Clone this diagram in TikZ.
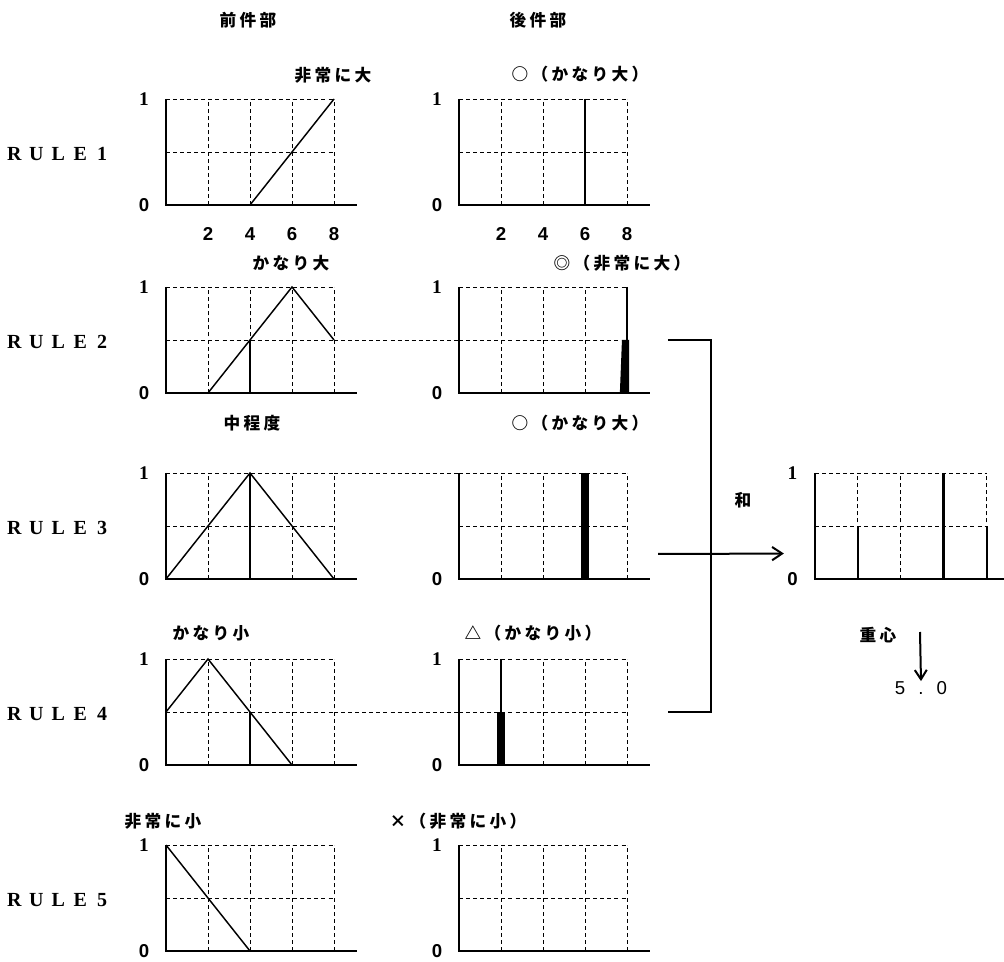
\documentclass[tikz,border=0pt]{standalone}
\usepackage{fontspec}
\setmainfont{Liberation Serif}
\newfontfamily\jpfont{Noto Sans CJK JP}[LetterSpace=20]
\newfontfamily\numfont{Liberation Sans}
\usetikzlibrary{arrows.meta}

% grid, axes and the 0 label of one membership-function panel
\newcommand\mfbase[2]{%
  \draw[gridline] (0,1) -- (8,1) (0,0.5) -- (8,0.5);
  \foreach \g in {2,4,6,8} {\draw[gridline] (\g,0) -- (\g,1);}
  \draw[axisline] (0,1) -- (0,0) -- (#2,0);
  \node[axzero] (#1zero) at (-1.05,0) {0};
}
% the same, with the 1 label on the vertical axis
\newcommand\mfaxes[2]{%
  \mfbase{#1}{#2}
  \node[axone] (#1one) at (-1.05,1) {1};
}
% the letter-spaced rule caption
\newcommand\rl[1]{\makebox[16.5pt][c]{#1}}

\begin{document}
\begin{tikzpicture}[x=0.75pt,y=-0.75pt,
  panel/.style 2 args={shift={(#1,#2)},x=15.75pt,y=79.5pt},
  axisline/.style={line width=1.5pt},
  gridline/.style={line width=0.7pt,dash pattern=on 3pt off 2.3pt},
  mfline/.style={line width=1.1pt,line join=miter},
  cutline/.style={line width=0.8pt},
  bracketline/.style={line width=1.5pt},
  jplab/.style={inner sep=0pt,font=\jpfont\bfseries\fontsize{12.5}{14}\selectfont},
  rulelab/.style={inner sep=0pt,anchor=west,font=\bfseries\fontsize{15}{17}\selectfont},
  axone/.style={inner sep=0pt,font=\bfseries\fontsize{14.5}{16}\selectfont},
  axzero/.style={inner sep=0pt,font=\numfont\bfseries\fontsize{14}{16}\selectfont},
  ticknum/.style={inner sep=0pt,font=\numfont\bfseries\fontsize{14}{16}\selectfont},
]
\useasboundingbox (0,0) rectangle (1004,962);

% column headings
\node[jplab] (hante) at (248,20) {前件部};
\node[jplab] (hkoke) at (538,20) {後件部};

% rule captions
\node[rulelab] (rule1) at (3,154) {\rl{R}\rl{U}\rl{L}\rl{E}\rl{1}};
\node[rulelab] (rule2) at (3,342) {\rl{R}\rl{U}\rl{L}\rl{E}\rl{2}};
\node[rulelab] (rule3) at (3,528) {\rl{R}\rl{U}\rl{L}\rl{E}\rl{3}};
\node[rulelab] (rule4) at (3,714) {\rl{R}\rl{U}\rl{L}\rl{E}\rl{4}};
\node[rulelab] (rule5) at (3,900) {\rl{R}\rl{U}\rl{L}\rl{E}\rl{5}};

% ---------- RULE 1 ----------
\node[jplab] (a1name) at (333,75) {非常に大};
\node[jplab] (c1name) at (580,74) {○（かなり大）};
\begin{scope}[panel={166}{205}]
  \mfaxes{A1}{9.1}
  \draw[mfline] (4,0) -- (8,1);
  \foreach \g in {2,4,6,8} {\node[ticknum] (tA\g) at (\g,-0.27) {\g};}
\end{scope}
\begin{scope}[panel={459}{205}]
  \mfaxes{C1}{9.1}
  \draw[cutline] (6,0) -- (6,1);
  \foreach \g in {2,4,6,8} {\node[ticknum] (tC\g) at (\g,-0.27) {\g};}
\end{scope}

% ---------- RULE 2 ----------
\node[jplab] (a2name) at (291,263) {かなり大};
\node[jplab] (c2name) at (622,263) {◎（非常に大）};
\begin{scope}[panel={166}{393}]
  \mfaxes{A2}{9.1}
  \draw[mfline] (2,0) -- (6,1) -- (8,0.5);
  \draw[cutline] (4,0) -- (4,0.5);
  \coordinate (a2cut) at (8,0.5);
\end{scope}
\begin{scope}[panel={459}{393}]
  \mfaxes{C2}{9.1}
  \draw[cutline] (8,0) -- (8,1);
  \fill (7.66,0) -- (8.1,0) -- (8.1,0.5) -- (7.76,0.5) -- cycle;
  \coordinate (c2cut) at (0,0.5);
  \coordinate (br2) at (9.95,0.5);
\end{scope}
\draw[gridline] (a2cut) -- (c2cut);

% ---------- RULE 3 ----------
\node[jplab] (a3name) at (252,423) {中程度};
\node[jplab] (c3name) at (580,423) {○（かなり大）};
\begin{scope}[panel={166}{579}]
  \mfaxes{A3}{9.1}
  \draw[mfline] (0,0) -- (4,1) -- (8,0);
  \draw[cutline] (4,0) -- (4,1);
  \coordinate (a3cut) at (8,1);
\end{scope}
\begin{scope}[panel={459}{579}]
  \mfbase{C3}{9.1}
  \fill (5.83,0) rectangle (6.17,1);
  \coordinate (c3cut) at (0,1);
\end{scope}
\draw[gridline] (a3cut) -- (c3cut);

% ---------- RULE 4 ----------
\node[jplab] (a4name) at (211,633) {かなり小};
\node[jplab] (c4name) at (533,633) {△（かなり小）};
\begin{scope}[panel={166}{765}]
  \mfaxes{A4}{9.1}
  \draw[mfline] (0,0.5) -- (2,1) -- (6,0);
  \draw[cutline] (4,0) -- (4,0.5);
  \coordinate (a4cut) at (8,0.5);
\end{scope}
\begin{scope}[panel={459}{765}]
  \mfaxes{C4}{9.1}
  \draw[cutline] (2,0) -- (2,1);
  \fill (1.83,0) rectangle (2.17,0.5);
  \coordinate (c4cut) at (0,0.5);
  \coordinate (br4) at (9.95,0.5);
\end{scope}
\draw[gridline] (a4cut) -- (c4cut);

% ---------- RULE 5 ----------
\node[jplab] (a5name) at (163,821) {非常に小};
\node[jplab] (c5name) at (458,821) {×（非常に小）};
\begin{scope}[panel={166}{951}]
  \mfaxes{A5}{9.1}
  \draw[mfline] (0,1) -- (4,0);
\end{scope}
\begin{scope}[panel={459}{951}]
  \mfaxes{C5}{9.1}
\end{scope}

% ---------- aggregation ----------
\draw[bracketline] (br2) -- ++(43,0) coordinate (brtop) |- (br4);
\coordinate (sumin) at (658,554);
\begin{scope}[panel={815}{579},x=16.1pt]
  \mfaxes{S}{8.9}
  \draw[line width=1.5pt] (2,0) -- (2,0.5);
  \draw[line width=2.2pt] (6,0) -- (6,1);
  \draw[line width=1.5pt] (8,0) -- (8,0.5);
  \coordinate (sumout) at (-1.45,0.24);
\end{scope}
\draw[bracketline,-{Straight Barb[length=7.5pt,width=10pt,line width=1.5pt]}] (sumin) -- (sumout);
\node[jplab] (wa) at (743,500) {和};

% centre of gravity
\node[jplab] (cog) at (878,635) {重心};
\coordinate (cogtop) at (920,632);
\node[inner sep=0pt,font=\numfont\fontsize{14}{16}\selectfont] (cogval) at (921,688)
  {5\makebox[23.5pt][c]{.}0};
\draw[line width=1.5pt,-{Straight Barb[length=7pt,width=9pt,line width=1.5pt]}] (cogtop) -- (cogval.north);
\end{tikzpicture}
\end{document}
